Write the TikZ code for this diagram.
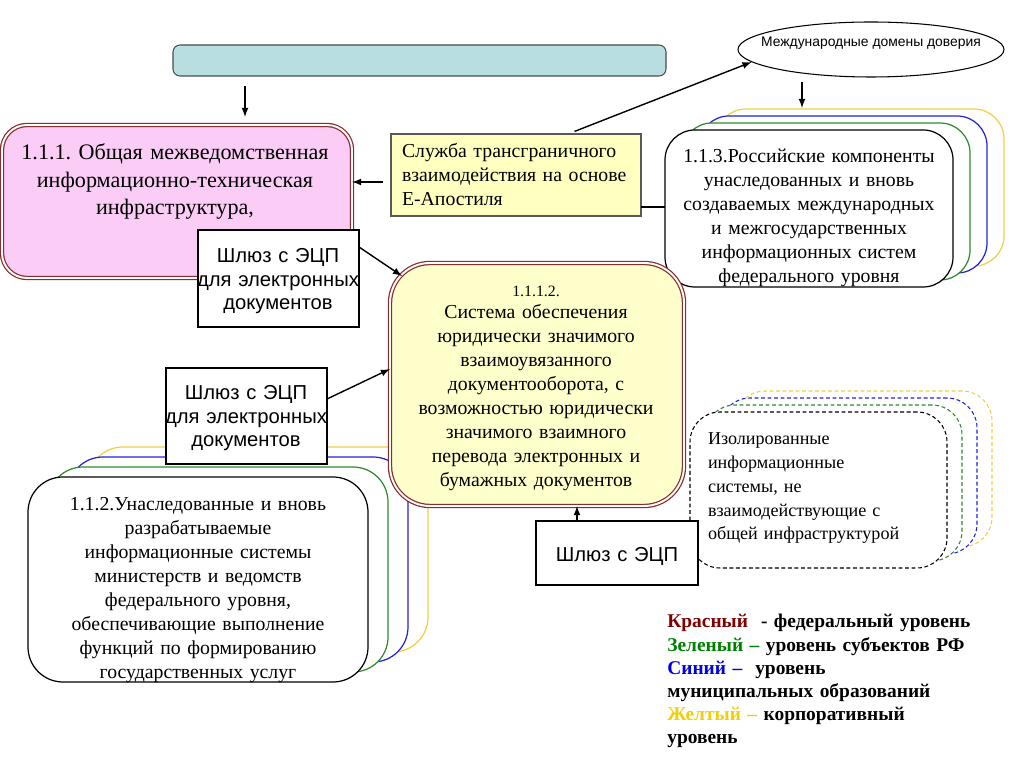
\documentclass[tikz,border=0pt]{standalone}
\usepackage{fontspec}
\setmainfont{Liberation Serif}
\setsansfont{Liberation Sans}
\usepackage{tikz}
\usetikzlibrary{shapes.geometric}
\definecolor{barfill}{HTML}{B8DEE1}
\definecolor{pinkfill}{HTML}{FACCF6}
\definecolor{svcfill}{HTML}{FFFFC0}
\definecolor{sysfill}{HTML}{FFFFCC}
\definecolor{dred}{HTML}{8B2B2B}
\definecolor{syel}{HTML}{F2CF45}
\definecolor{sblu}{HTML}{2222DD}
\definecolor{sgrn}{HTML}{2F8A2F}
\definecolor{lred}{HTML}{800000}
\definecolor{lgrn}{HTML}{008000}
\definecolor{lblu}{HTML}{0000E6}
\definecolor{lyel}{HTML}{F0D000}
\frenchspacing
\newcommand{\boxfont}{\fontsize{11.25}{13.6}\selectfont}
\newcommand{\gatefont}{\sffamily\fontsize{11.5}{13.2}\selectfont}

\begin{document}
\begin{tikzpicture}[x=0.2mm, y=-0.2mm,
  box/.style={draw, line width=0.6pt, inner sep=0pt, outer sep=0pt, anchor=north west},
  redbox/.style={box, draw=dred, double=white, double distance=1.1pt, line width=0.7pt},
  sheet/.style={box, fill=white, line width=0.7pt},
  gate/.style={box, fill=white, draw=black, line width=0.7pt},
  txt/.style={inner sep=0pt, outer sep=0pt, anchor=base, align=center, font=\boxfont},
  arr/.style={-latex, line width=0.8pt}]
  \useasboundingbox (0,0) rectangle (1024,768);

  % top bar and the common infrastructure
  \node [box, fill=barfill, draw=black!70, rounded corners=1.4mm, minimum width=98.6mm, minimum height=6.2mm] (bar) at (173,45) {};
  \node [redbox, fill=pinkfill, rounded corners=5mm, minimum width=70mm, minimum height=30.6mm] (n111) at (2,125) {};
  \node [txt, text width=80mm, font=\fontsize{12.6}{15.6}\selectfont] (t111) at (175,160) {1.1.1. Общая межведомственная\\ информационно-техническая\\ инфраструктура,};

  % apostille service and trust domains
  \node [box, fill=svcfill, draw=black!65, minimum width=50mm, minimum height=16.4mm] (svc) at (391,134) {};
  \node [txt, anchor=base west, align=left, text width=52mm] (tsvc) at (402,158) {Служба трансграничного\\ взаимодействия на основе\\ Е-Апостиля};
  \node [ellipse, draw, line width=0.6pt, inner sep=0pt, minimum width=53.2mm, minimum height=11mm] (dom) at (871,49.5) {};
  \node [txt, font=\sffamily\fontsize{7.9}{9.5}\selectfont] (tdom) at (871,46.5) {Международные домены доверия};

  % 1.1.3 stack
  \foreach \c/\i in {syel/3, sblu/2, sgrn/1}
    \node [sheet, draw=\c, rounded corners=6mm, minimum width=57.6mm, minimum height=31.4mm] (s113-\i) at ({665+17*\i},{130-7*\i}) {};
  \node [sheet, draw=black, rounded corners=6mm, minimum width=57.6mm, minimum height=31.4mm] (s113-0) at (665,130) {};
  \node [txt, text width=64mm] (t113) at (809,163) {1.1.3.Российские компоненты\\ унаследованных и вновь\\ создаваемых международных\\ и межгосударственных\\ информационных систем\\ федерального уровня};

  % 1.1.2 stack
  \foreach \c/\i in {syel/3, sblu/2, sgrn/1}
    \node [sheet, draw=\c, rounded corners=7mm, minimum width=68mm, minimum height=41mm] (s112-\i) at ({28+20*\i},{477-10*\i}) {};
  \node [sheet, draw=black, rounded corners=7mm, minimum width=68mm, minimum height=41mm] (s112-0) at (28,477) {};
  \node [txt, text width=70mm] (t112) at (198,511) {1.1.2.Унаследованные и вновь\\ разрабатываемые\\ информационные системы\\ министерств и ведомств\\ федерального уровня,\\ обеспечивающие выполнение\\ функций по формированию\\ государственных услуг};

  % isolated systems
  \foreach \c/\i in {syel/3, sblu/2, sgrn/1}
    \node [sheet, draw=\c, dashed, dash pattern=on 2.2pt off 1.5pt, line width=0.6pt, rounded corners=6mm, minimum width=51.4mm, minimum height=31.2mm] (siso-\i) at ({690+15*\i},{412-7*\i}) {};
  \node [sheet, draw=black, dashed, dash pattern=on 2.2pt off 1.5pt, line width=0.6pt, rounded corners=6mm, minimum width=51.4mm, minimum height=31.2mm] (siso-0) at (690,412) {};
  \node [txt, anchor=base west, align=left, text width=50mm, font=\fontsize{10.3}{13.5}\selectfont] (tiso) at (708,445) {Изолированные\\ информационные\\ системы, не\\ взаимодействующие с\\ общей инфраструктурой};

  % 1.1.1.2
  \node [redbox, fill=sysfill, rounded corners=8mm, minimum width=58.8mm, minimum height=48.6mm] (n1112) at (390,263) {};
  \node [txt, text width=62mm] (t1112) at (536,297) {{\fontsize{9}{10}\selectfont 1.1.1.2.}\\[-1.1pt] Система обеспечения\\ юридически значимого\\ взаимоувязанного\\ документооборота, с\\ возможностью юридически\\ значимого взаимного\\ перевода электронных и\\ бумажных документов};

  % gateways
  \node [gate, minimum width=32.2mm, minimum height=19.4mm] (gate1) at (198,230) {};
  \node [txt, text width=34mm, font=\gatefont] (tg1) at (278,263) {Шлюз с ЭЦП\\ для электронных\\ документов};
  \node [gate, minimum width=32.2mm, minimum height=19.2mm] (gate2) at (166,368) {};
  \node [txt, text width=34mm, font=\gatefont] (tg2) at (246,400) {Шлюз с ЭЦП\\ для электронных\\ документов};
  \node [gate, minimum width=32.4mm, minimum height=12.8mm] (gate3) at (536,521) {};
  \node [txt, text width=34mm, font=\gatefont] (tg3) at (617,562) {Шлюз с ЭЦП};

  % connectors
  \coordinate (x245) at (245,0);
  \coordinate (x568) at (568,0);
  \coordinate (x802) at (802,0);
  \coordinate (x577) at (577,0);
  \coordinate (y182) at (0,182);
  \coordinate (y207) at (0,207);
  \coordinate (y247) at (0,247);
  \coordinate (y399) at (0,399);
  \coordinate (y369) at (0,369);
  \draw [arr, shorten <=2mm, shorten >=1.6mm] (x245 |- bar.south) -- (x245 |- n111.north);
  \draw [arr, shorten <=1.6mm] (svc.west |- y182) -- (n111.east |- y182);
  \draw [arr, shorten <=1.4mm] (x568 |- svc.north) -- (dom.186);
  \draw [arr, shorten <=0.8mm, shorten >=0.2mm] (x802 |- dom.south) -- (x802 |- s113-3.north);
  \draw [line width=0.7pt] (svc.east |- y207) -- (s113-0.west |- y207);
  \draw [arr] (gate1.east |- y247) -- ([shift={(12,13)}]n1112.north west);
  \draw [arr] (gate2.east |- y399) -- (n1112.west |- y369);
  \draw [arr] (x577 |- gate3.north) -- (x577 |- n1112.south);

  % legend
  \node [anchor=base west, inner sep=0pt, align=left, text width=70mm, font=\bfseries\fontsize{11.05}{13.2}\selectfont] (legend) at (667,628) {\textcolor{lred}{Красный}\ \ - федеральный уровень\\ \textcolor{lgrn}{Зеленый –} уровень субъектов РФ\\ \textcolor{lblu}{Синий –}\ \ уровень\\ муниципальных образований\\ \textcolor{lyel}{Желтый –} корпоративный\\ уровень};
\end{tikzpicture}
\end{document}
